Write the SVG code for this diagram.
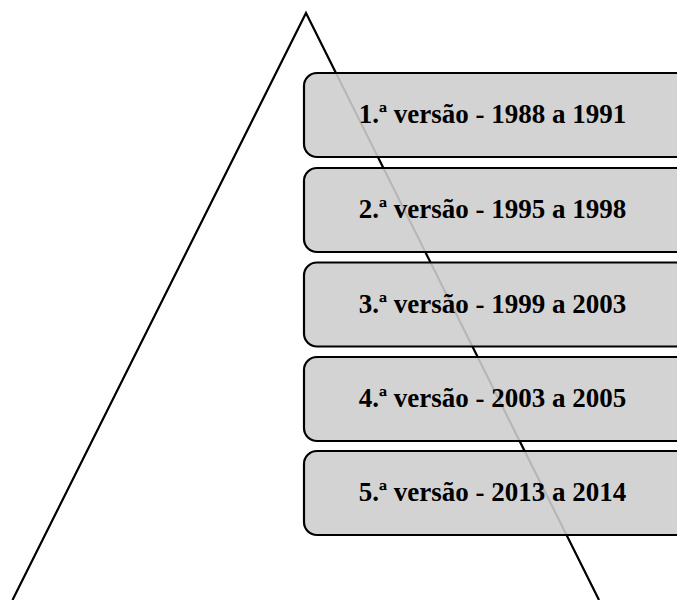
<svg xmlns="http://www.w3.org/2000/svg" width="677" height="600" viewBox="0 0 677 600">
<style>
.box{fill:#cecece;fill-opacity:0.89;stroke:#000;stroke-width:2.2}
.lbl{font-family:"Liberation Serif","Times New Roman",serif;font-weight:bold;font-size:27px;fill:#000;text-anchor:middle}
</style>
<rect width="677" height="600" fill="#fff"/>
<g id="triangle">
<polyline points="12.5,600 306,13 599,600" fill="none" stroke="#000" stroke-width="2.2"/>
</g>
<g id="connectors"></g>
<g id="v1"><rect class="box" x="304" y="73" width="390" height="84" rx="13"/><text class="lbl" x="492.5" y="123">1.ª versão - 1988 a 1991</text></g>
<g id="v2"><rect class="box" x="304" y="168" width="390" height="84" rx="13"/><text class="lbl" x="492.5" y="218">2.ª versão - 1995 a 1998</text></g>
<g id="v3"><rect class="box" x="304" y="262.5" width="390" height="84" rx="13"/><text class="lbl" x="492.5" y="312.5">3.ª versão - 1999 a 2003</text></g>
<g id="v4"><rect class="box" x="304" y="357" width="390" height="84" rx="13"/><text class="lbl" x="492.5" y="407">4.ª versão - 2003 a 2005</text></g>
<g id="v5"><rect class="box" x="304" y="451" width="390" height="84" rx="13"/><text class="lbl" x="492.5" y="501">5.ª versão - 2013 a 2014</text></g>
</svg>
